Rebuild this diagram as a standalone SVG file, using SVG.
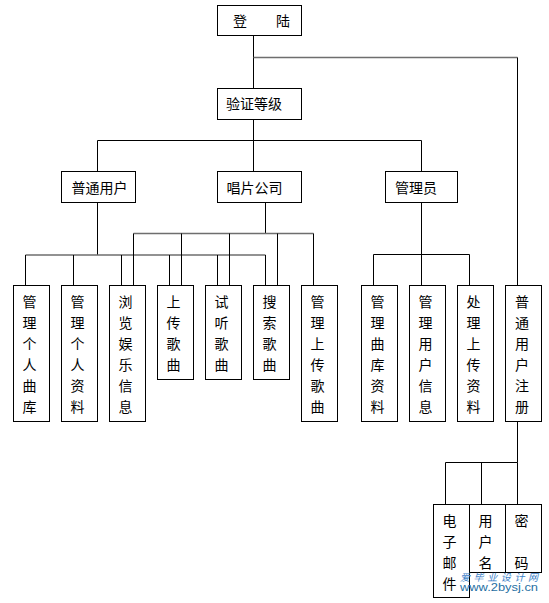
<svg xmlns="http://www.w3.org/2000/svg" width="549" height="603" viewBox="0 0 549 603">
<style>
.box{fill:#fff;stroke:#000;stroke-width:1}
.ln{fill:none;stroke:#000;stroke-width:1}
.gl{fill:none;stroke:#6e6e6e;stroke-width:1.6}
.t{font-family:"Noto Sans CJK SC","Noto Sans CJK JP",sans-serif;font-size:14px;fill:#000}
.v{text-anchor:middle}
</style>
<rect width="549" height="603" fill="#fff"/>
<g id="connectors">
  <path class="ln" d="M253.5 35.5V88.5M253.5 119.5V171.5"/>
  <path class="gl" d="M253.5 57.5H517.5"/>
  <path class="ln" d="M517.5 57.5V285.5"/>
  <path class="ln" d="M97.5 140.5H421.5M97.5 140.5V171.5M421.5 140.5V171.5"/>
  <path class="ln" d="M97.5 202.5V255"/>
  <path class="gl" d="M25.5 255H265.5"/>
  <path class="ln" d="M25.5 255V285.5M73.5 255V285.5M121.5 255V285.5M169.5 255V285.5M217.5 255V285.5M265.5 255V285.5"/>
  <path class="ln" d="M265.5 202.5V233.5"/>
  <path class="gl" d="M133.5 233.5H313.5"/>
  <path class="ln" d="M133.5 233.5V285.5M181.5 233.5V285.5M229.5 233.5V285.5M277.5 233.5V285.5M313.5 233.5V285.5"/>
  <path class="ln" d="M421.5 202.5V285.5M373.5 254.5H469.5M373.5 254.5V285.5M469.5 254.5V285.5"/>
  <path class="ln" d="M517.5 421.5V462.5M445.5 462.5H517.5M445.5 462.5V504.5M481.5 462.5V504.5M517.5 462.5V504.5"/>
</g>
<g id="n-login"><rect class="box" x="217.5" y="5.5" width="84" height="30"/><text class="t" x="233" y="26">登</text><text class="t" x="276" y="26">陆</text></g>
<g id="n-verify"><rect class="box" x="217.5" y="88.5" width="84" height="31"/><text class="t" x="226" y="109">验证等级</text></g>
<g id="n-user"><rect class="box" x="61.5" y="171.5" width="74" height="31"/><text class="t" x="71.5" y="192.5">普通用户</text></g>
<g id="n-label"><rect class="box" x="217.5" y="171.5" width="84" height="31"/><text class="t" x="226.5" y="192.5">唱片公司</text></g>
<g id="n-admin"><rect class="box" x="385.5" y="171.5" width="72" height="31"/><text class="t" x="395" y="192.5">管理员</text></g>

<g id="n-b1"><rect class="box" x="13.5" y="285.5" width="36" height="136"/><text class="t v" y="307"><tspan x="29.5">管</tspan><tspan x="29.5" dy="21">理</tspan><tspan x="29.5" dy="21">个</tspan><tspan x="29.5" dy="21">人</tspan><tspan x="29.5" dy="21">曲</tspan><tspan x="29.5" dy="21">库</tspan></text></g>
<g id="n-b2"><rect class="box" x="61.5" y="285.5" width="36" height="136"/><text class="t v" y="307"><tspan x="77.5">管</tspan><tspan x="77.5" dy="21">理</tspan><tspan x="77.5" dy="21">个</tspan><tspan x="77.5" dy="21">人</tspan><tspan x="77.5" dy="21">资</tspan><tspan x="77.5" dy="21">料</tspan></text></g>
<g id="n-b3"><rect class="box" x="109.5" y="285.5" width="36" height="136"/><text class="t v" y="307"><tspan x="125.5">浏</tspan><tspan x="125.5" dy="21">览</tspan><tspan x="125.5" dy="21">娱</tspan><tspan x="125.5" dy="21">乐</tspan><tspan x="125.5" dy="21">信</tspan><tspan x="125.5" dy="21">息</tspan></text></g>
<g id="n-b4"><rect class="box" x="157.5" y="285.5" width="36" height="94"/><text class="t v" y="307"><tspan x="173.5">上</tspan><tspan x="173.5" dy="21">传</tspan><tspan x="173.5" dy="21">歌</tspan><tspan x="173.5" dy="21">曲</tspan></text></g>
<g id="n-b5"><rect class="box" x="205.5" y="285.5" width="36" height="94"/><text class="t v" y="307"><tspan x="221.5">试</tspan><tspan x="221.5" dy="21">听</tspan><tspan x="221.5" dy="21">歌</tspan><tspan x="221.5" dy="21">曲</tspan></text></g>
<g id="n-b6"><rect class="box" x="253.5" y="285.5" width="36" height="94"/><text class="t v" y="307"><tspan x="269.5">搜</tspan><tspan x="269.5" dy="21">索</tspan><tspan x="269.5" dy="21">歌</tspan><tspan x="269.5" dy="21">曲</tspan></text></g>
<g id="n-b7"><rect class="box" x="301.5" y="285.5" width="36" height="136"/><text class="t v" y="307"><tspan x="317.5">管</tspan><tspan x="317.5" dy="21">理</tspan><tspan x="317.5" dy="21">上</tspan><tspan x="317.5" dy="21">传</tspan><tspan x="317.5" dy="21">歌</tspan><tspan x="317.5" dy="21">曲</tspan></text></g>
<g id="n-b8"><rect class="box" x="361.5" y="285.5" width="36" height="136"/><text class="t v" y="307"><tspan x="377.5">管</tspan><tspan x="377.5" dy="21">理</tspan><tspan x="377.5" dy="21">曲</tspan><tspan x="377.5" dy="21">库</tspan><tspan x="377.5" dy="21">资</tspan><tspan x="377.5" dy="21">料</tspan></text></g>
<g id="n-b9"><rect class="box" x="409.5" y="285.5" width="36" height="136"/><text class="t v" y="307"><tspan x="425.5">管</tspan><tspan x="425.5" dy="21">理</tspan><tspan x="425.5" dy="21">用</tspan><tspan x="425.5" dy="21">户</tspan><tspan x="425.5" dy="21">信</tspan><tspan x="425.5" dy="21">息</tspan></text></g>
<g id="n-b10"><rect class="box" x="457.5" y="285.5" width="36" height="136"/><text class="t v" y="307"><tspan x="473.5">处</tspan><tspan x="473.5" dy="21">理</tspan><tspan x="473.5" dy="21">上</tspan><tspan x="473.5" dy="21">传</tspan><tspan x="473.5" dy="21">资</tspan><tspan x="473.5" dy="21">料</tspan></text></g>
<g id="n-b11"><rect class="box" x="505.5" y="285.5" width="36" height="136"/><text class="t v" y="307"><tspan x="522">普</tspan><tspan x="522" dy="21">通</tspan><tspan x="522" dy="21">用</tspan><tspan x="522" dy="21">户</tspan><tspan x="522" dy="21">注</tspan><tspan x="522" dy="21">册</tspan></text></g>

<g id="n-email"><rect class="box" x="433.5" y="504.5" width="36" height="93"/><text class="t v" y="526"><tspan x="449.5">电</tspan><tspan x="449.5" dy="21">子</tspan><tspan x="449.5" dy="21">邮</tspan><tspan x="449.5" dy="21">件</tspan></text></g>
<g id="n-username"><rect class="box" x="469.5" y="504.5" width="36" height="68"/><text class="t v" y="526"><tspan x="485.5">用</tspan><tspan x="485.5" dy="21">户</tspan><tspan x="485.5" dy="21">名</tspan></text></g>
<g id="n-password"><rect class="box" x="505.5" y="504.5" width="36" height="68"/><text class="t v" y="526"><tspan x="521.5">密</tspan><tspan x="521.5" dy="42">码</tspan></text></g>

<g id="watermark">
  <text x="460" y="581" font-family="'Noto Sans CJK SC',sans-serif" font-size="10" font-style="italic" fill="#3d82c8" textLength="78" lengthAdjust="spacing">爱毕业设计网</text>
  <text x="460" y="590.5" font-family="'Liberation Sans',sans-serif" font-size="11" fill="#1f6fa3" textLength="78" lengthAdjust="spacingAndGlyphs">www.2bysj.cn</text>
</g>
</svg>
